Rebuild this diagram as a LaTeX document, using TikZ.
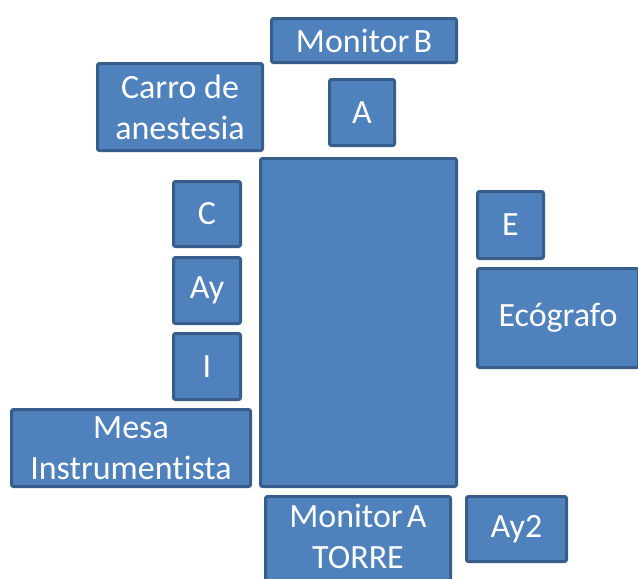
\documentclass[tikz,border=0pt]{standalone}
\usepackage{fontspec}
\setmainfont[Ligatures={NoCommon}]{Carlito}
\definecolor{boxfill}{HTML}{4F81BD}
\definecolor{boxline}{HTML}{385D8A}
\tikzset{
  box/.style={draw=boxline, fill=boxfill, line width=3pt, rounded corners=2pt,
    inner sep=0pt, align=center, text=white,
    font=\fontsize{34}{41}\selectfont}
}
\begin{document}
\begin{tikzpicture}[x=1pt,y=-1pt]
  \useasboundingbox (0,0) rectangle (638,579);
  \clip (0,0) rectangle (638,579);
  % operating table
  \node[box, minimum width=196pt, minimum height=328pt] (cama) at (358.5,322.5) {};
  % equipment and staff around it
  \node[box, minimum width=185pt, minimum height=44pt] (monB) at (364,40.5) {Monitor\hspace{0.12em}B};
  \node[box, minimum width=65pt, minimum height=66pt] (A) at (362,112.5) {A};
  \node[box, minimum width=165pt, minimum height=87pt] (carro) at (180,107) {Carro de\\anestesia};
  \node[box, minimum width=67pt, minimum height=65pt] (C) at (207,214) {C};
  \node[box, minimum width=67pt, minimum height=66pt] (Ay) at (207,290.5) {Ay};
  \node[box, minimum width=67pt, minimum height=66pt] (I) at (207,366.5) {I};
  \node[box, minimum width=66pt, minimum height=67pt] (E) at (510.5,225) {E};
  \node[box, minimum width=161pt, minimum height=99pt] (eco) at (558,318) {Ecógrafo};
  \node[box, minimum width=239pt, minimum height=77pt] (mesa) at (131,448) {Mesa\\Instrumentista};
  % this box runs past the lower edge; the strut lifts its text a little
  \node[box, minimum width=185pt, minimum height=87pt] (monA) at (358,540) {Monitor\hspace{0.12em}A\\TORRE\rule[-8pt]{0pt}{8pt}};
  \node[box, minimum width=100pt, minimum height=65pt] (Ay2) at (516.5,529) {Ay2};
\end{tikzpicture}
\end{document}
